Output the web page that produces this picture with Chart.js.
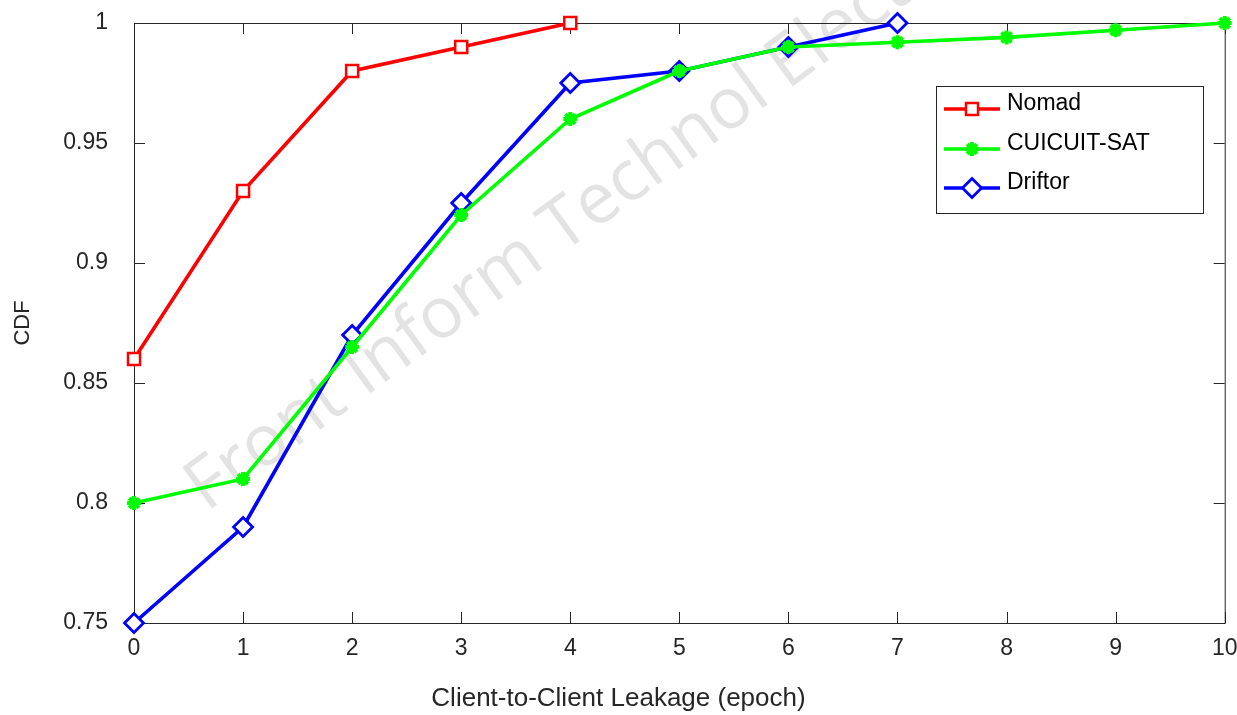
<!DOCTYPE html>
<html>
<head>
<meta charset="utf-8">
<script src="https://cdn.jsdelivr.net/npm/chart.js@4"></script>
<style>
  html, body { margin: 0; padding: 0; background: #fff; }
  #wrap { width: 1237px; height: 715px; }
</style>
</head>
<body>
<div id="wrap"><canvas id="cdf-chart" width="1237" height="715"></canvas></div>
<script>
const epochs = [0, 1, 2, 3, 4, 5, 6, 7, 8, 9, 10];
const nomadCdf = [0.86, 0.93, 0.98, 0.99, 1.0];
const cuicuitCdf = [0.80, 0.81, 0.865, 0.92, 0.96, 0.98, 0.99, 0.992, 0.994, 0.997, 1.0];
const driftorCdf = [0.75, 0.79, 0.87, 0.925, 0.975, 0.98, 0.99, 1.0];
const yTicks = [0.75, 0.8, 0.85, 0.9, 0.95, 1];
const xTitle = 'Client-to-Client Leakage (epoch)';
const watermarkText = 'Front Inform Technol Electron';

const axisColor = '#262626';
const fontFamily = '"Liberation Sans", Arial, sans-serif';

function toPoints(values) {
    return values.map((v, i) => ({ x: epochs[i], y: v }));
}

// box frame, inward ticks, watermark, x title (centred on the figure) and the legend box
const matlabLook = {
    id: 'matlabLook',
    beforeDatasetsDraw(chart) {
        const ctx = chart.ctx;
        const area = chart.chartArea;
        ctx.save();
        ctx.translate(595, 205);
        ctx.rotate(-36 * Math.PI / 180);
        ctx.font = '71px "Open Sans", sans-serif';
        ctx.fillStyle = 'rgba(200,200,200,0.5)';
        ctx.textAlign = 'center';
        ctx.textBaseline = 'middle';
        ctx.fillText(watermarkText, 0, 0);
        ctx.restore();

        ctx.save();
        ctx.strokeStyle = axisColor;
        ctx.lineWidth = 1;
        ctx.strokeRect(area.left + 0.5, area.top + 0.5, area.right - area.left, area.bottom - area.top);
        const xs = chart.scales.x;
        const ys = chart.scales.y;
        const tick = 11;
        ctx.beginPath();
        epochs.forEach(e => {
            const px = Math.round(xs.getPixelForValue(e)) + 0.5;
            ctx.moveTo(px, area.bottom);
            ctx.lineTo(px, area.bottom - tick);
            ctx.moveTo(px, area.top);
            ctx.lineTo(px, area.top + tick);
        });
        yTicks.forEach(v => {
            const py = Math.round(ys.getPixelForValue(v)) + 0.5;
            ctx.moveTo(area.left, py);
            ctx.lineTo(area.left + tick, py);
            ctx.moveTo(area.right, py);
            ctx.lineTo(area.right - tick, py);
        });
        ctx.stroke();

        ctx.fillStyle = axisColor;
        ctx.font = '26px ' + fontFamily;
        ctx.textAlign = 'center';
        ctx.textBaseline = 'middle';
        ctx.fillText(xTitle, chart.width / 2, 699);
        ctx.restore();
    },
    afterDraw(chart) {
        const ctx = chart.ctx;
        const box = { x: 936, y: 86, w: 267, h: 127 };
        ctx.save();
        ctx.fillStyle = '#fff';
        ctx.fillRect(box.x, box.y, box.w, box.h);
        ctx.strokeStyle = axisColor;
        ctx.lineWidth = 1;
        ctx.strokeRect(box.x + 0.5, box.y + 0.5, box.w, box.h);
        const rows = [109, 149, 188];
        chart.data.datasets.forEach((ds, i) => {
            const y = rows[i];
            ctx.strokeStyle = ds.borderColor;
            ctx.lineWidth = ds.borderWidth;
            ctx.beginPath();
            ctx.moveTo(944, y);
            ctx.lineTo(1000, y);
            ctx.stroke();
            ctx.fillStyle = ds.backgroundColor;
            ctx.strokeStyle = ds.borderColor;
            ctx.lineWidth = ds.pointBorderWidth;
            Chart.helpers.drawPoint(ctx, {
                pointStyle: ds.pointStyle,
                radius: ds.pointRadius,
                borderWidth: ds.pointBorderWidth
            }, 972, y);
            ctx.fillStyle = '#000';
            ctx.font = '23px ' + fontFamily;
            ctx.textAlign = 'left';
            ctx.textBaseline = 'middle';
            ctx.fillText(ds.label, 1007, y - 5);
        });
        ctx.restore();
    }
};

new Chart(document.getElementById('cdf-chart'), {
    type: 'line',
    data: {
        datasets: [
            {
                label: 'Nomad',
                data: toPoints(nomadCdf),
                borderColor: '#ff0000',
                backgroundColor: '#ffffff',
                pointStyle: 'rect',
                pointRadius: 8.5,
                pointBorderWidth: 2.5,
                borderWidth: 3.6
            },
            {
                label: 'CUICUIT-SAT',
                data: toPoints(cuicuitCdf),
                borderColor: '#00ff00',
                backgroundColor: '#00ff00',
                pointStyle: 'star',
                pointRadius: 7,
                pointBorderWidth: 4,
                borderWidth: 3.6
            },
            {
                label: 'Driftor',
                data: toPoints(driftorCdf),
                borderColor: '#0000ff',
                backgroundColor: '#ffffff',
                pointStyle: 'rectRot',
                pointRadius: 9.5,
                pointBorderWidth: 2.8,
                borderWidth: 3.6
            }
        ]
    },
    options: {
        responsive: false,
        animation: false,
        clip: false,
        layout: { padding: { top: 23, right: 11, left: 0, bottom: 0 } },
        plugins: {
            legend: { display: false },
            tooltip: { enabled: false }
        },
        scales: {
            x: {
                type: 'linear',
                min: 0,
                max: 10,
                afterFit: s => { s.height = 92; s.paddingLeft = 0; s.paddingRight = 0; },
                afterBuildTicks: s => { s.ticks = epochs.map(v => ({ value: v })); },
                grid: { display: false, drawTicks: false },
                border: { display: false },
                ticks: {
                    padding: 12,
                    maxRotation: 0,
                    color: axisColor,
                    font: { family: fontFamily, size: 23 },
                    callback: v => String(v)
                }
            },
            y: {
                type: 'linear',
                min: 0.75,
                max: 1,
                afterFit: s => { s.width = 134; s.paddingTop = 0; s.paddingBottom = 0; },
                afterBuildTicks: s => { s.ticks = yTicks.map(v => ({ value: v })); },
                grid: { display: false, drawTicks: false },
                border: { display: false },
                ticks: {
                    padding: 26,
                    color: axisColor,
                    font: { family: fontFamily, size: 23 },
                    callback: v => String(v)
                },
                title: {
                    display: true,
                    text: 'CDF',
                    color: axisColor,
                    font: { family: fontFamily, size: 22 },
                    padding: { top: 10, bottom: 0 }
                }
            }
        }
    },
    plugins: [matlabLook]
});
</script>
</body>
</html>
